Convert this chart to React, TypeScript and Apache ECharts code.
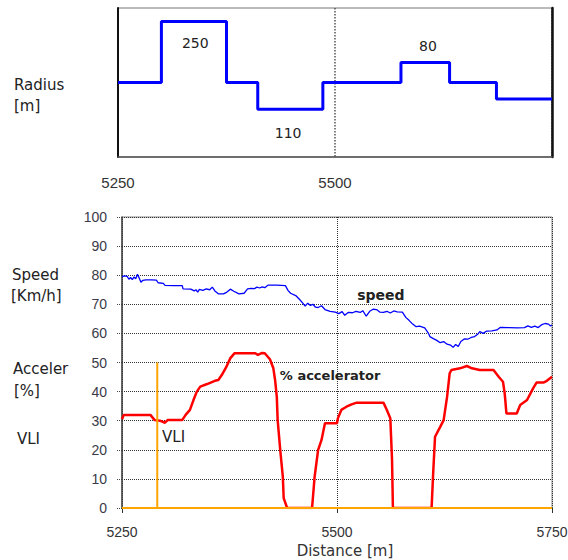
import React, { useEffect, useRef } from "react";
import * as echarts from "echarts";

// ---- Top chart: curve radius steps ----
const radiusDist = [5250, 5300, 5375, 5411, 5486, 5576, 5632, 5686, 5750];
const radiusLevel = [50, 91, 50, 32, 50, 63.5, 50, 39, 39];
const radiusLabels = [
  { text: "250", d: 5339, v: 76.5 },
  { text: "110", d: 5446, v: 16.1 },
  { text: "80", d: 5607, v: 74.5 },
];

// ---- Bottom chart ----
const xTicks = [5250, 5500, 5750];
const yTicks = [0, 10, 20, 30, 40, 50, 60, 70, 80, 90, 100];

const speedDist = [
  5250, 5253, 5256, 5258, 5260, 5262, 5264, 5266, 5268, 5270, 5272, 5274, 5278, 5284, 5290, 5292, 5298,
  5300, 5310, 5320, 5321, 5330, 5334, 5336, 5338, 5340, 5344, 5348, 5352, 5355, 5358, 5362, 5368, 5372,
  5376, 5380, 5386, 5392, 5396, 5400, 5404, 5407, 5410, 5413, 5416, 5420, 5430, 5440, 5443, 5446, 5452,
  5456, 5460, 5463, 5466, 5469, 5472, 5475, 5478, 5482, 5486, 5492, 5498, 5502, 5506, 5509, 5513, 5518,
  5522, 5527, 5530, 5534, 5538, 5542, 5546, 5550, 5554, 5558, 5562, 5566, 5570, 5576, 5580, 5584, 5588,
  5592, 5596, 5602, 5606, 5608, 5612, 5616, 5620, 5624, 5628, 5632, 5635, 5638, 5641, 5644, 5648, 5652,
  5656, 5660, 5664, 5666, 5670, 5674, 5680, 5686, 5690, 5700, 5710, 5718, 5722, 5726, 5730, 5734, 5738,
  5742, 5746, 5748, 5750,
];
const speedVal = [
  79.5, 79.8, 79.6, 78.6, 79.2, 78.5, 79.4, 78.8, 80.3, 79.0, 77.6, 78.2, 78.4, 78.4, 78.3, 77.4, 77.2,
  76.5, 76.4, 76.4, 75.3, 75.2, 74.6, 75.0, 74.2, 75.1, 74.8, 75.3, 75.0, 75.9, 74.6, 73.6, 73.6, 74.2,
  75.2, 74.5, 73.6, 73.8, 75.3, 75.5, 75.4, 75.9, 75.6, 76.0, 75.7, 76.6, 76.6, 76.4, 74.8, 73.8, 73.0,
  71.8, 70.5, 69.4, 70.4, 69.6, 70.0, 69.0, 68.9, 69.5, 68.2, 67.6, 67.3, 66.8, 67.5, 66.2, 67.2, 67.1,
  67.6, 67.2, 67.8, 65.9, 67.6, 68.3, 68.2, 67.3, 67.2, 67.6, 67.0, 67.7, 67.4, 67.3, 65.5, 64.4, 63.2,
  62.3, 62.5, 61.9, 60.2, 58.9, 58.2, 57.6, 56.8, 57.2, 56.3, 56.0, 55.2, 56.2, 55.5, 57.2, 58.1, 58.0,
  58.6, 58.9, 59.8, 60.6, 60.0, 60.8, 60.9, 61.2, 62.1, 62.0, 61.9, 62.0, 62.6, 62.1, 62.5, 62.0, 63.0,
  63.4, 63.2, 62.6, 62.9,
];

const accelDist = [
  5250, 5252, 5283, 5288, 5294, 5300, 5303, 5320, 5324, 5329, 5333, 5337, 5341, 5349, 5358, 5362, 5366,
  5371, 5376, 5381, 5405, 5408, 5413, 5416, 5422, 5426, 5428, 5430, 5431, 5434, 5437, 5438, 5442, 5471,
  5474, 5478, 5482, 5486, 5500, 5501, 5505, 5511, 5517, 5523, 5554, 5558, 5562, 5564, 5565, 5610, 5612,
  5614, 5620, 5624, 5628, 5631, 5633, 5643, 5651, 5657, 5666, 5682, 5688, 5693, 5695, 5697, 5709, 5713,
  5721, 5728, 5732, 5740, 5744, 5750,
];
const accelVal = [
  30.5, 32, 32, 30.2, 30, 29.3, 30.2, 30.2, 32, 33.7, 37, 40, 41.7, 42.6, 43.7, 44, 45.7,
  48.3, 51.5, 53.2, 53.2, 52.6, 53.3, 53.2, 51.1, 48, 44, 38.2, 30.2, 19.9, 10.8, 3.4, 0, 0,
  10.8, 19.9, 23.4, 29.1, 29.1, 30.8, 33.7, 34.8, 35.6, 36.2, 36.2, 33.7, 30.8, 16.5, 0, 0, 13,
  24.5, 27.9, 30.2, 38.2, 46.3, 47.4, 48, 48.8, 48, 47.4, 47.4, 45.1, 43.4, 39.4, 32.5, 32.5, 35.4,
  37.1, 41.1, 43.1, 43.1, 43.7, 45.1,
];

const vliDist = [5250, 5291, 5291, 5291, 5750];
const vliVal = [0, 0, 50, 0, 0];

const seriesNotes = {
  speed: { text: "speed", d: 5551, v: 73.2 },
  accel: { text: "% accelerator", d: 5492, v: 45.7 },
  vli: { text: "VLI", d: 5310, v: 24.4 },
};

const sideLabels = [
  { text: "Radius", left: 14, top: 77 },
  { text: "[m]", left: 14, top: 98 },
  { text: "Speed", left: 12, top: 267 },
  { text: "[Km/h]", left: 11, top: 288 },
  { text: "Acceler", left: 13, top: 361 },
  { text: "[%]", left: 14, top: 383 },
  { text: "VLI", left: 17, top: 431 },
];

const FONT = "DejaVu Sans";
const TICK_FONT = "Liberation Sans";
const pairs = (xs: number[], ys: number[]) => xs.map((x, i) => [x, ys[i]]);
const plain = (v: number) => String(v);

function note(n: { text: string; d: number; v: number }, size: number, bold: boolean) {
  return {
    name: n.text,
    coord: [n.d, n.v],
    symbol: "circle",
    symbolSize: 0,
    label: {
      show: true,
      position: "inside",
      formatter: n.text,
      color: "#222",
      fontFamily: FONT,
      fontSize: size,
      fontWeight: bold ? "bold" : "normal",
    },
  };
}

export default function App() {
  const ref = useRef<HTMLDivElement>(null);
  useEffect(() => {
    if (!ref.current) return;
    const chart = echarts.init(ref.current, undefined, { renderer: "svg" });
    chart.setOption({
      animation: false,
      backgroundColor: "#ffffff",
      textStyle: { fontFamily: FONT },
      grid: [
        {
          left: 118, right: 16, top: 8, height: 149, show: true, borderColor: "#777", borderWidth: 1,
          containLabel: false, outerBoundsMode: "none",
        },
        {
          left: 122, right: 16, top: 217, height: 291, show: true, borderColor: "#888", borderWidth: 1,
          containLabel: false, outerBoundsMode: "none",
        },
      ],
      xAxis: [
        {
          type: "value",
          gridIndex: 0,
          min: 5250,
          max: 5750,
          interval: 250,
          axisLine: { show: true, lineStyle: { color: "#555", width: 1.5 } },
          axisTick: { show: false },
          axisLabel: { showMaxLabel: false, margin: 18, color: "#333", fontSize: 15, fontFamily: TICK_FONT, formatter: plain },
          splitLine: { show: true, lineStyle: { type: "dotted", color: "#555", width: 1.5 } },
        },
        {
          type: "value",
          gridIndex: 1,
          min: xTicks[0],
          max: xTicks[xTicks.length - 1],
          interval: xTicks[1] - xTicks[0],
          offset: 1,
          name: "Distance [m]",
          nameLocation: "middle",
          nameGap: 33,
          nameTextStyle: { color: "#333", fontSize: 15, fontFamily: FONT, padding: [0, 0, 0, 16] },
          axisLine: { show: true, lineStyle: { color: "#3f9a2f", width: 2 } },
          axisTick: { show: true, length: 5, lineStyle: { color: "#333" } },
          axisLabel: { margin: 16, color: "#333", fontSize: 14, fontFamily: TICK_FONT, formatter: plain },
          splitLine: { show: true, lineStyle: { type: "dotted", color: "#333", width: 1 } },
        },
      ],
      yAxis: [
        {
          type: "value",
          gridIndex: 0,
          min: 0,
          max: 100,
          axisLine: { show: true, lineStyle: { color: "#111", width: 2 } },
          axisTick: { show: false },
          axisLabel: { show: false },
          splitLine: { show: false },
        },
        {
          type: "value",
          gridIndex: 0,
          position: "right",
          min: 0,
          max: 100,
          axisLine: { show: true, lineStyle: { color: "#111", width: 2.5 } },
          axisTick: { show: false },
          axisLabel: { show: false },
          splitLine: { show: false },
        },
        {
          type: "value",
          gridIndex: 1,
          min: yTicks[0],
          max: yTicks[yTicks.length - 1],
          interval: yTicks[1] - yTicks[0],
          axisLine: { show: true, lineStyle: { color: "#444", width: 1.5 } },
          axisTick: { show: true, length: 6, lineStyle: { color: "#444", type: "dotted" } },
          axisLabel: { margin: 15, color: "#3a3a48", fontSize: 14, fontFamily: TICK_FONT, formatter: plain },
          splitLine: { show: true, lineStyle: { type: "dotted", color: "#333", width: 1 } },
        },
      ],
      series: [
        {
          type: "line",
          name: "radius",
          xAxisIndex: 0,
          yAxisIndex: 0,
          step: "end",
          showSymbol: false,
          data: pairs(radiusDist, radiusLevel),
          lineStyle: { color: "#0000ff", width: 3 },
          markPoint: { data: radiusLabels.map((l) => note(l, 14, false)) },
        },
        {
          type: "line",
          name: "speed",
          xAxisIndex: 1,
          yAxisIndex: 2,
          showSymbol: false,
          data: pairs(speedDist, speedVal),
          lineStyle: { color: "#0000ff", width: 1.3 },
          markPoint: { data: [note(seriesNotes.speed, 14, true)] },
        },
        {
          type: "line",
          name: "accelerator",
          xAxisIndex: 1,
          yAxisIndex: 2,
          showSymbol: false,
          data: pairs(accelDist, accelVal),
          lineStyle: { color: "#ff0000", width: 2.5 },
          markPoint: { data: [note(seriesNotes.accel, 13, true)] },
        },
        {
          type: "line",
          name: "VLI",
          xAxisIndex: 1,
          yAxisIndex: 2,
          showSymbol: false,
          data: pairs(vliDist, vliVal),
          lineStyle: { color: "#ffa500", width: 2 },
          markPoint: { data: [note(seriesNotes.vli, 15, false)] },
        },
      ],
      graphic: sideLabels.map((s) => ({
        type: "text",
        left: s.left,
        top: s.top,
        style: { text: s.text, fill: "#222", font: `15px "${FONT}"` },
      })),
    });
    return () => chart.dispose();
  }, []);
  return <div ref={ref} style={{ position: "fixed", left: 0, top: 0, width: 568, height: 560 }} />;
}
